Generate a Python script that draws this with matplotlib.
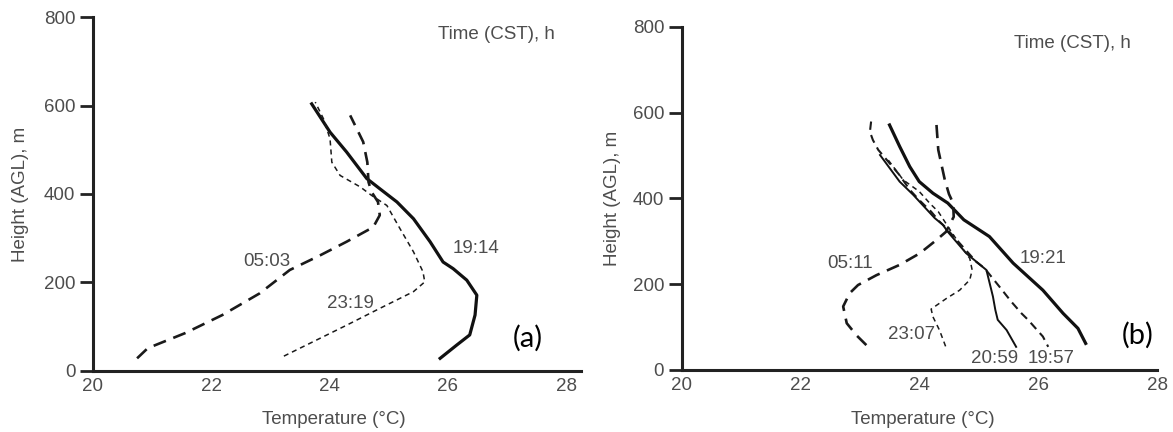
import matplotlib
matplotlib.use("Agg")
import matplotlib.pyplot as plt

plt.rcParams['font.family'] = ['Liberation Sans', 'DejaVu Sans']

# ---- panel (a) profiles: temperature (degC), height (m)
a_1914_t = [23.70, 24.01, 24.29, 24.63, 24.85, 25.14, 25.42, 25.70, 25.92, 26.09, 26.32, 26.49, 26.46, 26.37, 26.15, 25.87]
a_1914_h = [604, 540, 495, 435, 412, 382, 344, 292, 246, 231, 205, 171, 126, 81, 58, 28]

a_0503_t = [20.75, 20.93, 21.56, 22.19, 22.82, 23.33, 23.84, 24.29, 24.74, 24.85, 24.82, 24.71, 24.66, 24.64, 24.57, 24.35]
a_0503_h = [28, 51, 85, 126, 175, 228, 261, 292, 325, 352, 382, 405, 427, 472, 518, 578]

a_2319_t = [23.23, 23.73, 24.29, 24.85, 25.42, 25.61, 25.58, 25.42, 25.19, 24.97, 24.71, 24.52, 24.18, 24.04, 24.01, 23.90, 23.76]
a_2319_h = [33, 66, 103, 141, 179, 201, 224, 269, 322, 374, 397, 416, 442, 472, 525, 570, 608]

# ---- panel (b) profiles
b_1921_t = [23.50, 23.67, 23.84, 24.00, 24.23, 24.48, 24.75, 25.18, 25.58, 26.08, 26.42, 26.67, 26.80]
b_1921_h = [571, 521, 474, 439, 412, 389, 350, 311, 249, 186, 132, 97, 62]

b_0511_t = [24.29, 24.32, 24.43, 24.50, 24.57, 24.58, 24.45, 24.29, 24.01, 23.67, 23.28, 22.97, 22.83, 22.72, 22.78, 22.95, 23.11]
b_0511_h = [571, 513, 443, 410, 389, 357, 322, 303, 272, 245, 221, 198, 179, 148, 109, 80, 58]

b_1957_t = [23.19, 23.17, 23.22, 23.31, 23.50, 23.67, 23.84, 24.00, 24.20, 24.34, 24.43, 24.65, 24.96, 25.10, 25.35, 25.55, 25.72, 25.83, 26.08, 26.17]
b_1957_h = [579, 555, 536, 513, 482, 454, 420, 396, 369, 346, 334, 300, 252, 237, 194, 159, 132, 117, 78, 54]

b_2059_t = [23.34, 23.67, 23.90, 24.26, 24.40, 24.48, 24.79, 25.13, 25.24, 25.28, 25.32, 25.47, 25.63]
b_2059_h = [501, 439, 408, 354, 338, 322, 272, 233, 171, 140, 117, 93, 54]

b_2307_t = [23.48, 23.73, 24.00, 24.18, 24.32, 24.55, 24.72, 24.85, 24.89, 24.85, 24.68, 24.46, 24.20, 24.23, 24.34, 24.46]
b_2307_h = [489, 443, 416, 388, 369, 320, 285, 260, 233, 210, 186, 167, 142, 124, 93, 49]

x_ticks = [20, 22, 24, 26, 28]
y_ticks = [0, 200, 400, 600, 800]

grey = '#4d4d4d'
fs = 13.5
long_dash = dict(color='#1a1a1a', lw=1.9, dashes=(5.0, 3.0))
mid_dash = dict(color='#1a1a1a', lw=1.5, dashes=(4.0, 2.6))
short_dash = dict(color='#1a1a1a', lw=1.1, dashes=(3.3, 2.6))
solid = dict(color='#111111', lw=2.3)

fig = plt.figure(figsize=(11.73, 4.32), dpi=100)
ax_a = fig.add_axes([92.7 / 1173, 61.3 / 432, 488.3 / 1173, 353.4 / 432])
ax_b = fig.add_axes([681.5 / 1173, 62.0 / 432, 475.5 / 1173, 343.3 / 432])


def style_axes(ax, xmax):
    ax.set_xlim(20, xmax)
    ax.set_ylim(0, 800)
    ax.set_xticks(x_ticks)
    ax.set_yticks(y_ticks)
    for s in ['top', 'right']:
        ax.spines[s].set_visible(False)
    for s in ['left', 'bottom']:
        ax.spines[s].set_linewidth(2.2)
        ax.spines[s].set_color('#222222')
    ax.tick_params(axis='y', direction='out', length=9.5, width=2.0, color='#222222',
                   labelsize=fs, labelcolor=grey, pad=3)
    ax.tick_params(axis='x', length=0, labelsize=fs, labelcolor=grey, pad=5)
    ax.set_ylabel('Height (AGL), m', fontsize=fs, color=grey)
    ax.set_xlabel('Temperature (\u00b0C)', fontsize=fs, color=grey)
    ax.patch.set_alpha(0)


style_axes(ax_a, 28.25)
style_axes(ax_b, 28)
ax_a.yaxis.set_label_coords(-0.130, 0.5)
ax_b.yaxis.set_label_coords(-0.127, 0.5)
ax_a.xaxis.set_label_coords(0.494, -0.115)
ax_b.xaxis.set_label_coords(0.507, -0.118)

# panel (a)
ax_a.plot(a_1914_t, a_1914_h, **solid)
ax_a.plot(a_0503_t, a_0503_h, **long_dash)
ax_a.plot(a_2319_t, a_2319_h, **short_dash)
ax_a.text(22.94, 248, '05:03', fontsize=fs, color=grey, ha='center', va='center')
ax_a.text(26.47, 277, '19:14', fontsize=fs, color=grey, ha='center', va='center')
ax_a.text(24.35, 152, '23:19', fontsize=fs, color=grey, ha='center', va='center')
ax_a.text(25.84, 761, 'Time (CST), h', fontsize=fs, color=grey, ha='left', va='center')
ax_a.text(27.35, 73, '(a)', fontsize=21, color='black', ha='center', va='center',
          family=['Lato', 'DejaVu Sans'])

# panel (b)
ax_b.plot(b_1921_t, b_1921_h, **solid)
ax_b.plot(b_0511_t, b_0511_h, **long_dash)
ax_b.plot(b_1957_t, b_1957_h, **mid_dash)
ax_b.plot(b_2059_t, b_2059_h, color='#111111', lw=1.4)
ax_b.plot(b_2307_t, b_2307_h, **short_dash)
ax_b.text(22.83, 249, '05:11', fontsize=fs, color=grey, ha='center', va='center')
ax_b.text(26.08, 260, '19:21', fontsize=fs, color=grey, ha='center', va='center')
ax_b.text(23.87, 82, '23:07', fontsize=fs, color=grey, ha='center', va='center')
ax_b.text(25.27, 27, '20:59', fontsize=fs, color=grey, ha='center', va='center')
ax_b.text(26.22, 27, '19:57', fontsize=fs, color=grey, ha='center', va='center')
ax_b.text(25.6, 761, 'Time (CST), h', fontsize=fs, color=grey, ha='left', va='center')
ax_b.text(27.68, 82, '(b)', fontsize=21, color='black', ha='center', va='center',
          family=['Lato', 'DejaVu Sans'])

fig.savefig('out.png', dpi=100)
